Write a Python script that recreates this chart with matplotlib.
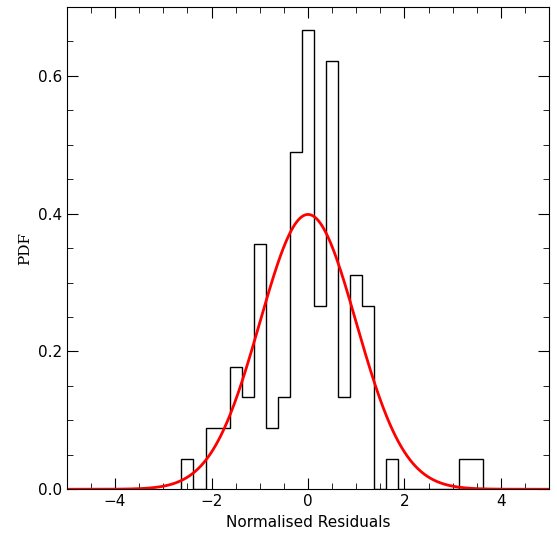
import numpy as np
import matplotlib.pyplot as plt
from matplotlib.ticker import MultipleLocator

# histogram of normalised residuals (bin width 0.25)
edges = np.arange(-2.625, 3.626, 0.25)
counts = [1, 0, 2, 2, 4, 3, 8, 2, 3, 11, 15, 6, 14, 3, 7, 6, 0, 1,
          0, 0, 0, 0, 0, 1, 1]
n_total = sum(counts)
pdf = np.array(counts) / (n_total * 0.25)

fig = plt.figure(figsize=(5.57, 5.40), dpi=100)
ax = fig.add_axes([0.12, 0.094, 0.866, 0.893])

ax.stairs(pdf, edges, color='black', lw=1)
x = np.linspace(-5, 5, 500)
ax.plot(x, np.exp(-x**2 / 2) / np.sqrt(2 * np.pi), color='red', lw=2)

ax.set_xlim(-5, 5)
ax.set_ylim(0, 0.70)
ax.xaxis.set_major_locator(MultipleLocator(2))
ax.xaxis.set_minor_locator(MultipleLocator(0.5))
ax.yaxis.set_major_locator(MultipleLocator(0.2))
ax.yaxis.set_minor_locator(MultipleLocator(0.05))
ax.tick_params(which='both', direction='in', top=True, right=True, labelsize=11)
ax.tick_params(which='major', length=8)
ax.tick_params(which='minor', length=4)
ax.set_xlabel('Normalised Residuals', fontsize=11)
ax.set_ylabel('PDF', fontsize=11, family='DejaVu Serif')

fig.savefig('out.png')
